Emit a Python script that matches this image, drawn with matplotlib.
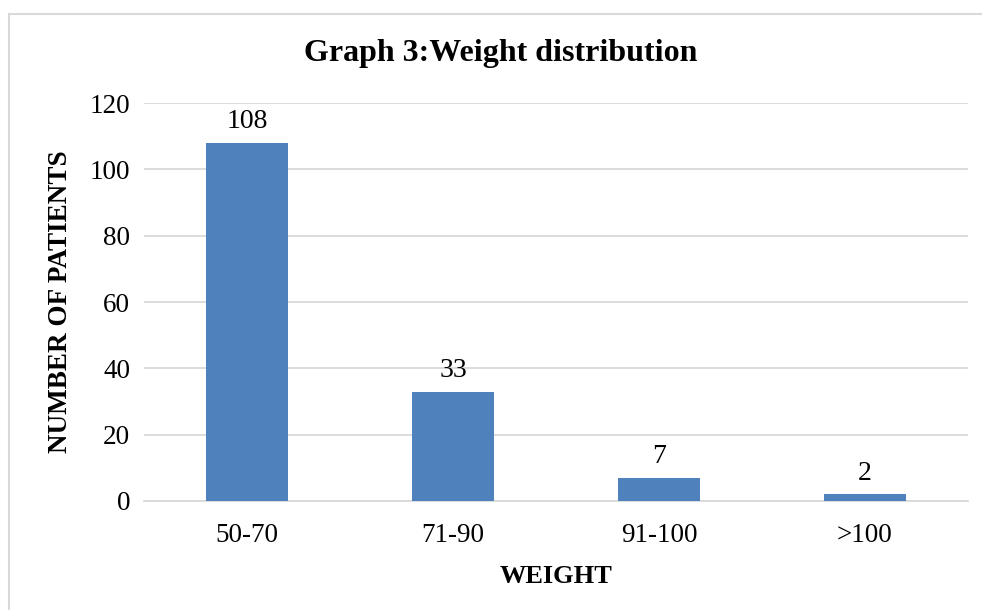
import matplotlib
matplotlib.use("Agg")
from matplotlib import pyplot as plt
from matplotlib.lines import Line2D

# Patient counts per weight band
weight_bands = ["50-70", "71-90", "91-100", ">100"]
patients = [108, 33, 7, 2]
y_ticks = [0, 20, 40, 60, 80, 100, 120]

plt.rcParams['font.family'] = ['Liberation Serif', 'DejaVu Serif']

fig = plt.figure(figsize=(9.82, 6.10), dpi=100)
ax = fig.add_axes([0.1466, 0.1787, 0.8391, 0.6524])

# Light frame (top and left edges) around the chart
fx = 8.5 / 982
fy = 1 - 13.5 / 610
frame = '#D9D9D9'
fig.lines.append(Line2D([fx, 1.0], [fy, fy], transform=fig.transFigure,
                        color=frame, linewidth=1.5))
fig.lines.append(Line2D([fx, fx], [0.0, fy], transform=fig.transFigure,
                        color=frame, linewidth=1.5))

x = range(len(weight_bands))
bars = ax.bar(x, patients, width=0.4, color='#4F81BD', zorder=3)

for i, v in enumerate(patients):
    ax.annotate(str(v), (i, v), xytext=(0, 6), textcoords='offset points',
                ha='center', va='bottom', fontsize=20)

ax.set_xlim(-0.5, len(weight_bands) - 0.5)
ax.set_ylim(0, 120)
ax.set_yticks(y_ticks)
ax.set_xticks(list(x))
ax.set_xticklabels(weight_bands)
ax.tick_params(axis='both', length=0, labelsize=19.5, pad=10)
ax.tick_params(axis='x', pad=16)
ax.yaxis.grid(True, color='#D9D9D9', linewidth=1.3, zorder=0)
ax.set_axisbelow(True)
for s in ['top', 'right', 'left']:
    ax.spines[s].set_visible(False)
ax.spines['bottom'].set_color('#D9D9D9')
ax.spines['bottom'].set_linewidth(1.3)

ax.set_xlabel('WEIGHT', fontsize=19, fontweight='bold', labelpad=12)
ax.set_ylabel('NUMBER OF PATIENTS', fontsize=19.5, fontweight='bold', labelpad=12)
fig.text(0.51, 1 - 53 / 610, 'Graph 3:Weight distribution', ha='center',
         va='center', fontsize=23, fontweight='bold')

fig.savefig('out.png', dpi=100)
